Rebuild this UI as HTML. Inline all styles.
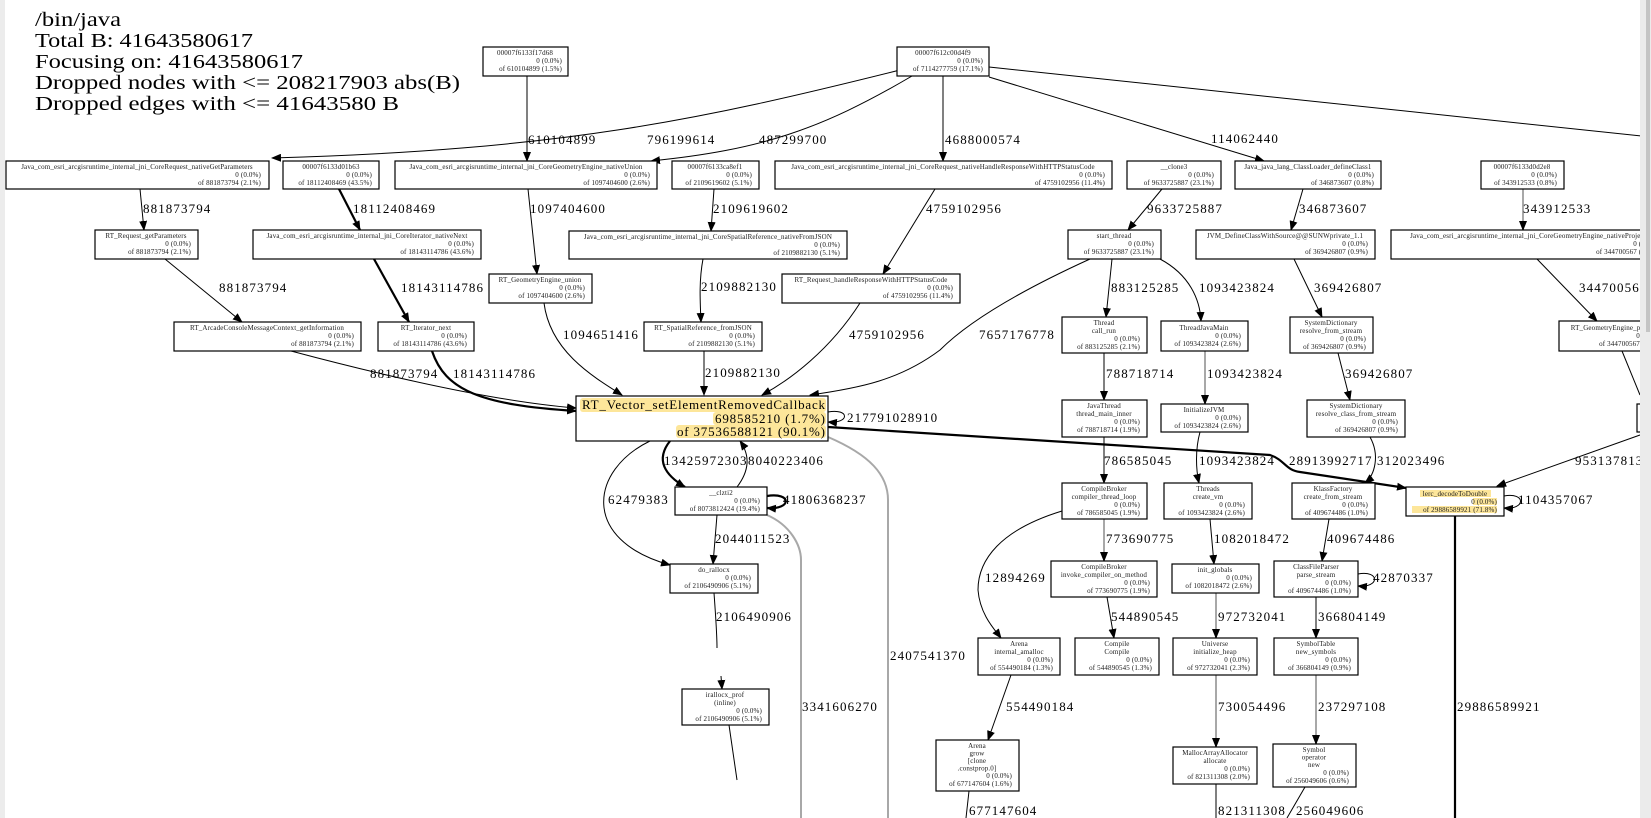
<!DOCTYPE html>
<html><head><meta charset="utf-8"><style>
html,body{margin:0;padding:0;background:#fff;}
svg{display:block;}
.t{font-family:"Liberation Serif",serif;font-size:20px;fill:#000;}
.n{font-family:"Liberation Serif",serif;font-size:7px;fill:#1a1a1a;letter-spacing:0.15px;}
.e{font-family:"Liberation Serif",serif;font-size:13px;fill:#000;letter-spacing:1.1px;}
.b{font-family:"Liberation Serif",serif;font-size:13px;fill:#000;}
rect.nd{fill:#fff;stroke:#000;stroke-width:1.2;}
path{fill:none;stroke:#000;stroke-width:1;}
path.k{stroke-width:2.2;}
path.g{stroke:#a8a8a8;stroke-width:2;}
</style></head><body>
<svg width="1651" height="818" viewBox="0 0 1651 818" xmlns="http://www.w3.org/2000/svg">
<defs>
<marker id="a" markerUnits="userSpaceOnUse" markerWidth="10" markerHeight="8" refX="9" refY="4" orient="auto"><path d="M0,0 L10,4 L0,8 Z" style="fill:#000;stroke:none"/></marker>
<marker id="ag" markerUnits="userSpaceOnUse" markerWidth="10" markerHeight="8" refX="9" refY="4" orient="auto"><path d="M0,0 L10,4 L0,8 Z" style="fill:#000;stroke:none"/></marker>
</defs>
<rect x="0" y="0" width="5" height="818" fill="#ececec"/>

<!-- title -->
<text class="t" x="35" y="26" textLength="86" lengthAdjust="spacingAndGlyphs">/bin/java</text>
<text class="t" x="35" y="47" textLength="218" lengthAdjust="spacingAndGlyphs">Total B: 41643580617</text>
<text class="t" x="35" y="68" textLength="268" lengthAdjust="spacingAndGlyphs">Focusing on: 41643580617</text>
<text class="t" x="35" y="89" textLength="425" lengthAdjust="spacingAndGlyphs">Dropped nodes with &lt;= 208217903 abs(B)</text>
<text class="t" x="35" y="110" textLength="364" lengthAdjust="spacingAndGlyphs">Dropped edges with &lt;= 41643580 B</text>

<!-- edges -->
<g>
<path d="M527,76 L527,161" marker-end="url(#a)"/>
<path d="M900,70 C700,120 560,150 272,158" marker-end="url(#a)"/>
<path d="M912,76 C820,130 760,150 651,161" marker-end="url(#a)"/>
<path d="M943,76 L943,161" marker-end="url(#a)"/>
<path d="M989,77 L1264,161" marker-end="url(#a)"/>
<path d="M989,67 L1660,138"/>
<path d="M140,189 L144,230" marker-end="url(#a)"/>
<path class="k" d="M339,189 L360,230" marker-end="url(#a)"/>
<path d="M528,189 L537,274" marker-end="url(#a)"/>
<path d="M714,189 L711,231" marker-end="url(#a)"/>
<path d="M935,189 L883,274" marker-end="url(#a)"/>
<path d="M1162,189 L1128,230" marker-end="url(#a)"/>
<path d="M1303,189 L1291,230" marker-end="url(#a)"/>
<path class="g" d="M1523,189 L1523,230" marker-end="url(#ag)"/>
<path d="M165,259 L242,322" marker-end="url(#a)"/>
<path class="k" d="M374,259 L409,322" marker-end="url(#a)"/>
<path d="M703,259 C699,280 700,300 701,322" marker-end="url(#a)"/>
<path d="M1112,259 L1106,317" marker-end="url(#a)"/>
<path d="M1160,259 C1190,275 1200,300 1201,321" marker-end="url(#a)"/>
<path d="M1294,259 L1322,317" marker-end="url(#a)"/>
<path d="M1537,259 L1597,321" marker-end="url(#a)"/>
<path d="M544,303 C550,350 590,375 622,395" marker-end="url(#a)"/>
<path d="M860,303 C830,350 790,380 762,395" marker-end="url(#a)"/>
<path d="M1090,259 C1000,300 960,330 940,350 C900,380 860,388 810,395" marker-end="url(#a)"/>
<path d="M704,351 L704,395" marker-end="url(#a)"/>
<path d="M291,351 C400,380 500,402 576,408" marker-end="url(#a)"/>
<path class="k" d="M432,351 C445,390 480,405 576,411" marker-end="url(#a)"/>
<path d="M1104,353 L1104,400" marker-end="url(#a)"/>
<path class="g" d="M1205,351 L1205,404" marker-end="url(#ag)"/>
<path d="M1338,353 L1350,400" marker-end="url(#a)"/>
<path d="M1622,351 L1640,395"/>
<path class="k" d="M828,427 L1270,455 C1285,460 1285,470 1300,472 L1406,488" marker-end="url(#a)"/>
<path d="M828,412 C850,408 850,424 828,422" marker-end="url(#a)"/>
<path class="k" d="M670,441 C655,460 665,475 685,487" marker-end="url(#a)"/>
<path d="M737,487 C750,470 750,455 740,441" marker-end="url(#a)"/>
<path d="M650,441 C590,470 580,540 670,565" marker-end="url(#a)"/>
<path class="k" d="M767,496 C792,492 792,510 767,508" marker-end="url(#a)"/>
<path d="M717,515 L713,564" marker-end="url(#a)"/>
<path d="M714,593 C716,620 717,640 717,648"/>
<path d="M721,676 L722,689" marker-end="url(#a)"/>
<path d="M729,725 L737,780"/>
<path class="g" d="M767,515 C790,525 801,545 801,560 L801,818"/>
<path class="g" d="M828,437 C870,455 888,475 888,500 L888,818"/>
<path d="M1104,437 L1104,483" marker-end="url(#a)"/>
<path d="M1200,432 C1195,450 1196,470 1199,483" marker-end="url(#a)"/>
<path d="M1370,437 C1380,455 1375,475 1365,483" marker-end="url(#a)"/>
<path d="M1640,435 L1497,486" marker-end="url(#a)"/>
<path d="M1504,496 C1526,492 1526,510 1504,508" marker-end="url(#a)"/>
<path class="k" d="M1455,516 L1455,818"/>
<path class="g" d="M1104,519 L1104,561" marker-end="url(#ag)"/>
<path d="M1210,519 L1214,564" marker-end="url(#a)"/>
<path d="M1329,519 L1322,561" marker-end="url(#a)"/>
<path d="M1062,511 C1000,530 978,560 978,590 C980,615 995,630 1001,638" marker-end="url(#a)"/>
<path d="M1107,597 L1114,638" marker-end="url(#a)"/>
<path class="g" d="M1216,593 L1216,638" marker-end="url(#ag)"/>
<path d="M1358,574 C1380,570 1380,588 1358,586" marker-end="url(#a)"/>
<path d="M1316,597 L1316,638" marker-end="url(#a)"/>
<path d="M1011,675 L988,740" marker-end="url(#a)"/>
<path class="g" d="M1216,675 L1216,747" marker-end="url(#ag)"/>
<path class="g" d="M1316,675 L1316,744" marker-end="url(#ag)"/>
<path d="M969,791 L966,818"/>
<path d="M1216,784 L1216,818"/>
<path d="M1305,787 L1287,818"/>
</g>

<!-- edge labels -->
<g class="e">
<text x="528" y="144">610104899</text>
<text x="647" y="144">796199614</text>
<text x="759" y="144">487299700</text>
<text x="945" y="144">4688000574</text>
<text x="1211" y="143">114062440</text>
<text x="143" y="213">881873794</text>
<text x="353" y="213">18112408469</text>
<text x="530" y="213">1097404600</text>
<text x="713" y="213">2109619602</text>
<text x="926" y="213">4759102956</text>
<text x="1147" y="213">9633725887</text>
<text x="1299" y="213">346873607</text>
<text x="1523" y="213">343912533</text>
<text x="219" y="292">881873794</text>
<text x="401" y="292">18143114786</text>
<text x="701" y="291">2109882130</text>
<text x="1111" y="292">883125285</text>
<text x="1199" y="292">1093423824</text>
<text x="1314" y="292">369426807</text>
<text x="1579" y="292">344700567</text>
<text x="563" y="339">1094651416</text>
<text x="849" y="339">4759102956</text>
<text x="979" y="339">7657176778</text>
<text x="705" y="377">2109882130</text>
<text x="370" y="378">881873794</text>
<text x="453" y="378">18143114786</text>
<text x="1106" y="378">788718714</text>
<text x="1207" y="378">1093423824</text>
<text x="1345" y="378">369426807</text>
<text x="847" y="422">217791028910</text>
<text x="664" y="465">13425972303</text>
<text x="748" y="465">8040223406</text>
<text x="1104" y="465">786585045</text>
<text x="1199" y="465">1093423824</text>
<text x="1289" y="465">28913992717</text>
<text x="1377" y="465">312023496</text>
<text x="1575" y="465">9531378133</text>
<text x="608" y="504">62479383</text>
<text x="783" y="504">41806368237</text>
<text x="1518" y="504">1104357067</text>
<text x="715" y="543">2044011523</text>
<text x="1106" y="543">773690775</text>
<text x="1214" y="543">1082018472</text>
<text x="1327" y="543">409674486</text>
<text x="985" y="582">12894269</text>
<text x="1373" y="582">42870337</text>
<text x="716" y="621">2106490906</text>
<text x="1111" y="621">544890545</text>
<text x="1218" y="621">972732041</text>
<text x="1318" y="621">366804149</text>
<text x="890" y="660">2407541370</text>
<text x="802" y="711">3341606270</text>
<text x="1006" y="711">554490184</text>
<text x="1218" y="711">730054496</text>
<text x="1318" y="711">237297108</text>
<text x="1457" y="711">29886589921</text>
<text x="969" y="815">677147604</text>
<text x="1218" y="815">821311308</text>
<text x="1296" y="815">256049606</text>
</g>

<!-- nodes -->
<g class="n">
<rect class="nd" x="483" y="47" width="85" height="29"/>
<text x="525" y="55" text-anchor="middle">00007f6133f17d68</text><text x="562" y="63" text-anchor="end">0 (0.0%)</text><text x="562" y="71" text-anchor="end">of 610104899 (1.5%)</text>

<rect class="nd" x="897" y="47" width="92" height="29"/>
<text x="943" y="55" text-anchor="middle">00007f612c00d4f9</text><text x="983" y="63" text-anchor="end">0 (0.0%)</text><text x="983" y="71" text-anchor="end">of 7114277759 (17.1%)</text>

<rect class="nd" x="6" y="161" width="263" height="28"/>
<text x="137" y="169" text-anchor="middle">Java_com_esri_arcgisruntime_internal_jni_CoreRequest_nativeGetParameters</text><text x="261" y="177" text-anchor="end">0 (0.0%)</text><text x="261" y="185" text-anchor="end">of 881873794 (2.1%)</text>

<rect class="nd" x="283" y="161" width="96" height="28"/>
<text x="331" y="169" text-anchor="middle">00007f6133d01b63</text><text x="372" y="177" text-anchor="end">0 (0.0%)</text><text x="372" y="185" text-anchor="end">of 18112408469 (43.5%)</text>

<rect class="nd" x="395" y="161" width="262" height="28"/>
<text x="526" y="169" text-anchor="middle">Java_com_esri_arcgisruntime_internal_jni_CoreGeometryEngine_nativeUnion</text><text x="650" y="177" text-anchor="end">0 (0.0%)</text><text x="650" y="185" text-anchor="end">of 1097404600 (2.6%)</text>

<rect class="nd" x="672" y="161" width="87" height="28"/>
<text x="715" y="169" text-anchor="middle">00007f6133ca8ef1</text><text x="752" y="177" text-anchor="end">0 (0.0%)</text><text x="752" y="185" text-anchor="end">of 2109619602 (5.1%)</text>

<rect class="nd" x="775" y="161" width="337" height="28"/>
<text x="943" y="169" text-anchor="middle">Java_com_esri_arcgisruntime_internal_jni_CoreRequest_nativeHandleResponseWithHTTPStatusCode</text><text x="1105" y="177" text-anchor="end">0 (0.0%)</text><text x="1105" y="185" text-anchor="end">of 4759102956 (11.4%)</text>

<rect class="nd" x="1127" y="161" width="94" height="28"/>
<text x="1174" y="169" text-anchor="middle">__clone3</text><text x="1214" y="177" text-anchor="end">0 (0.0%)</text><text x="1214" y="185" text-anchor="end">of 9633725887 (23.1%)</text>

<rect class="nd" x="1235" y="161" width="146" height="28"/>
<text x="1308" y="169" text-anchor="middle">Java_java_lang_ClassLoader_defineClass1</text><text x="1374" y="177" text-anchor="end">0 (0.0%)</text><text x="1374" y="185" text-anchor="end">of 346873607 (0.8%)</text>

<rect class="nd" x="1481" y="161" width="83" height="28"/>
<text x="1522" y="169" text-anchor="middle">00007f6133d0d2e8</text><text x="1557" y="177" text-anchor="end">0 (0.0%)</text><text x="1557" y="185" text-anchor="end">of 343912533 (0.8%)</text>

<rect class="nd" x="95" y="230" width="103" height="29"/>
<text x="146" y="238" text-anchor="middle">RT_Request_getParameters</text><text x="191" y="246" text-anchor="end">0 (0.0%)</text><text x="191" y="254" text-anchor="end">of 881873794 (2.1%)</text>

<rect class="nd" x="253" y="230" width="228" height="29"/>
<text x="367" y="238" text-anchor="middle">Java_com_esri_arcgisruntime_internal_jni_CoreIterator_nativeNext</text><text x="474" y="246" text-anchor="end">0 (0.0%)</text><text x="474" y="254" text-anchor="end">of 18143114786 (43.6%)</text>

<rect class="nd" x="569" y="231" width="278" height="28"/>
<text x="708" y="239" text-anchor="middle">Java_com_esri_arcgisruntime_internal_jni_CoreSpatialReference_nativeFromJSON</text><text x="840" y="247" text-anchor="end">0 (0.0%)</text><text x="840" y="255" text-anchor="end">of 2109882130 (5.1%)</text>

<rect class="nd" x="1068" y="230" width="93" height="29"/>
<text x="1114" y="238" text-anchor="middle">start_thread</text><text x="1154" y="246" text-anchor="end">0 (0.0%)</text><text x="1154" y="254" text-anchor="end">of 9633725887 (23.1%)</text>

<rect class="nd" x="1196" y="230" width="179" height="29"/>
<text x="1285" y="238" text-anchor="middle">JVM_DefineClassWithSource@@SUNWprivate_1.1</text><text x="1368" y="246" text-anchor="end">0 (0.0%)</text><text x="1368" y="254" text-anchor="end">of 369426807 (0.9%)</text>

<rect class="nd" x="1391" y="230" width="275" height="29"/>
<text x="1528" y="238" text-anchor="middle">Java_com_esri_arcgisruntime_internal_jni_CoreGeometryEngine_nativeProject</text><text x="1659" y="246" text-anchor="end">0 (0.0%)</text><text x="1659" y="254" text-anchor="end">of 344700567 (0.8%)</text>

<rect class="nd" x="489" y="274" width="103" height="29"/>
<text x="540" y="282" text-anchor="middle">RT_GeometryEngine_union</text><text x="585" y="290" text-anchor="end">0 (0.0%)</text><text x="585" y="298" text-anchor="end">of 1097404600 (2.6%)</text>

<rect class="nd" x="782" y="274" width="178" height="29"/>
<text x="871" y="282" text-anchor="middle">RT_Request_handleResponseWithHTTPStatusCode</text><text x="953" y="290" text-anchor="end">0 (0.0%)</text><text x="953" y="298" text-anchor="end">of 4759102956 (11.4%)</text>

<rect class="nd" x="174" y="322" width="187" height="29"/>
<text x="267" y="330" text-anchor="middle">RT_ArcadeConsoleMessageContext_getInformation</text><text x="354" y="338" text-anchor="end">0 (0.0%)</text><text x="354" y="346" text-anchor="end">of 881873794 (2.1%)</text>

<rect class="nd" x="378" y="322" width="96" height="29"/>
<text x="426" y="330" text-anchor="middle">RT_Iterator_next</text><text x="467" y="338" text-anchor="end">0 (0.0%)</text><text x="467" y="346" text-anchor="end">of 18143114786 (43.6%)</text>

<rect class="nd" x="644" y="322" width="118" height="29"/>
<text x="703" y="330" text-anchor="middle">RT_SpatialReference_fromJSON</text><text x="755" y="338" text-anchor="end">0 (0.0%)</text><text x="755" y="346" text-anchor="end">of 2109882130 (5.1%)</text>

<rect class="nd" x="1062" y="317" width="85" height="36"/>
<text x="1104" y="325" text-anchor="middle">Thread</text><text x="1104" y="333" text-anchor="middle">call_run</text><text x="1140" y="341" text-anchor="end">0 (0.0%)</text><text x="1140" y="349" text-anchor="end">of 883125285 (2.1%)</text>

<rect class="nd" x="1161" y="321" width="87" height="30"/>
<text x="1204" y="330" text-anchor="middle">ThreadJavaMain</text><text x="1241" y="338" text-anchor="end">0 (0.0%)</text><text x="1241" y="346" text-anchor="end">of 1093423824 (2.6%)</text>

<rect class="nd" x="1290" y="317" width="83" height="36"/>
<text x="1331" y="325" text-anchor="middle">SystemDictionary</text><text x="1331" y="333" text-anchor="middle">resolve_from_stream</text><text x="1366" y="341" text-anchor="end">0 (0.0%)</text><text x="1366" y="349" text-anchor="end">of 369426807 (0.9%)</text>

<rect class="nd" x="1559" y="321" width="110" height="30"/>
<text x="1614" y="330" text-anchor="middle">RT_GeometryEngine_project</text><text x="1662" y="338" text-anchor="end">0 (0.0%)</text><text x="1662" y="346" text-anchor="end">of 344700567 (0.8%)</text>

<rect class="nd" x="1062" y="400" width="85" height="37"/>
<text x="1104" y="408" text-anchor="middle">JavaThread</text><text x="1104" y="416" text-anchor="middle">thread_main_inner</text><text x="1140" y="424" text-anchor="end">0 (0.0%)</text><text x="1140" y="432" text-anchor="end">of 788718714 (1.9%)</text>

<rect class="nd" x="1161" y="404" width="87" height="28"/>
<text x="1204" y="412" text-anchor="middle">InitializeJVM</text><text x="1241" y="420" text-anchor="end">0 (0.0%)</text><text x="1241" y="428" text-anchor="end">of 1093423824 (2.6%)</text>

<rect class="nd" x="1307" y="400" width="98" height="37"/>
<text x="1356" y="408" text-anchor="middle">SystemDictionary</text><text x="1356" y="416" text-anchor="middle">resolve_class_from_stream</text><text x="1398" y="424" text-anchor="end">0 (0.0%)</text><text x="1398" y="432" text-anchor="end">of 369426807 (0.9%)</text>

<rect class="nd" x="1637" y="404" width="60" height="28"/>

<rect class="nd" x="675" y="487" width="92" height="28"/>
<text x="721" y="495" text-anchor="middle">__clzti2</text><text x="760" y="503" text-anchor="end">0 (0.0%)</text><text x="760" y="511" text-anchor="end">of 8073812424 (19.4%)</text>

<rect class="nd" x="1062" y="483" width="85" height="36"/>
<text x="1104" y="491" text-anchor="middle">CompileBroker</text><text x="1104" y="499" text-anchor="middle">compiler_thread_loop</text><text x="1140" y="507" text-anchor="end">0 (0.0%)</text><text x="1140" y="515" text-anchor="end">of 786585045 (1.9%)</text>

<rect class="nd" x="1164" y="483" width="88" height="36"/>
<text x="1208" y="491" text-anchor="middle">Threads</text><text x="1208" y="499" text-anchor="middle">create_vm</text><text x="1245" y="507" text-anchor="end">0 (0.0%)</text><text x="1245" y="515" text-anchor="end">of 1093423824 (2.6%)</text>

<rect class="nd" x="1292" y="483" width="83" height="36"/>
<text x="1333" y="491" text-anchor="middle">KlassFactory</text><text x="1333" y="499" text-anchor="middle">create_from_stream</text><text x="1368" y="507" text-anchor="end">0 (0.0%)</text><text x="1368" y="515" text-anchor="end">of 409674486 (1.0%)</text>

<rect class="nd" x="1406" y="487" width="98" height="29"/>
<rect x="1420" y="490" width="71" height="7" fill="#fde69a"/><rect x="1473" y="498" width="24" height="7" fill="#fde69a"/><rect x="1412" y="506" width="85" height="7" fill="#fde69a"/>
<text x="1455" y="496" text-anchor="middle">lerc_decodeToDouble</text><text x="1497" y="504" text-anchor="end">0 (0.0%)</text><text x="1497" y="512" text-anchor="end">of 29886589921 (71.8%)</text>

<rect class="nd" x="670" y="564" width="88" height="29"/>
<text x="714" y="572" text-anchor="middle">do_rallocx</text><text x="751" y="580" text-anchor="end">0 (0.0%)</text><text x="751" y="588" text-anchor="end">of 2106490906 (5.1%)</text>

<rect class="nd" x="1051" y="561" width="106" height="36"/>
<text x="1104" y="569" text-anchor="middle">CompileBroker</text><text x="1104" y="577" text-anchor="middle">invoke_compiler_on_method</text><text x="1150" y="585" text-anchor="end">0 (0.0%)</text><text x="1150" y="593" text-anchor="end">of 773690775 (1.9%)</text>

<rect class="nd" x="1172" y="564" width="87" height="29"/>
<text x="1215" y="572" text-anchor="middle">init_globals</text><text x="1252" y="580" text-anchor="end">0 (0.0%)</text><text x="1252" y="588" text-anchor="end">of 1082018472 (2.6%)</text>

<rect class="nd" x="1274" y="561" width="84" height="36"/>
<text x="1316" y="569" text-anchor="middle">ClassFileParser</text><text x="1316" y="577" text-anchor="middle">parse_stream</text><text x="1351" y="585" text-anchor="end">0 (0.0%)</text><text x="1351" y="593" text-anchor="end">of 409674486 (1.0%)</text>

<rect class="nd" x="978" y="638" width="82" height="37"/>
<text x="1019" y="646" text-anchor="middle">Arena</text><text x="1019" y="654" text-anchor="middle">internal_amalloc</text><text x="1053" y="662" text-anchor="end">0 (0.0%)</text><text x="1053" y="670" text-anchor="end">of 554490184 (1.3%)</text>

<rect class="nd" x="1075" y="638" width="84" height="37"/>
<text x="1117" y="646" text-anchor="middle">Compile</text><text x="1117" y="654" text-anchor="middle">Compile</text><text x="1152" y="662" text-anchor="end">0 (0.0%)</text><text x="1152" y="670" text-anchor="end">of 544890545 (1.3%)</text>

<rect class="nd" x="1173" y="638" width="84" height="37"/>
<text x="1215" y="646" text-anchor="middle">Universe</text><text x="1215" y="654" text-anchor="middle">initialize_heap</text><text x="1250" y="662" text-anchor="end">0 (0.0%)</text><text x="1250" y="670" text-anchor="end">of 972732041 (2.3%)</text>

<rect class="nd" x="1274" y="638" width="84" height="37"/>
<text x="1316" y="646" text-anchor="middle">SymbolTable</text><text x="1316" y="654" text-anchor="middle">new_symbols</text><text x="1351" y="662" text-anchor="end">0 (0.0%)</text><text x="1351" y="670" text-anchor="end">of 366804149 (0.9%)</text>

<rect class="nd" x="682" y="689" width="87" height="36"/>
<text x="725" y="697" text-anchor="middle">irallocx_prof</text><text x="725" y="705" text-anchor="middle">(inline)</text><text x="762" y="713" text-anchor="end">0 (0.0%)</text><text x="762" y="721" text-anchor="end">of 2106490906 (5.1%)</text>

<rect class="nd" x="936" y="740" width="83" height="51"/>
<text x="977" y="748" text-anchor="middle">Arena</text><text x="977" y="755.5" text-anchor="middle">grow</text><text x="977" y="763" text-anchor="middle">[clone</text><text x="977" y="770.5" text-anchor="middle">.constprop.0]</text><text x="1012" y="778" text-anchor="end">0 (0.0%)</text><text x="1012" y="786" text-anchor="end">of 677147604 (1.6%)</text>

<rect class="nd" x="1173" y="747" width="84" height="37"/>
<text x="1215" y="755" text-anchor="middle">MallocArrayAllocator</text><text x="1215" y="763" text-anchor="middle">allocate</text><text x="1250" y="771" text-anchor="end">0 (0.0%)</text><text x="1250" y="779" text-anchor="end">of 821311308 (2.0%)</text>

<rect class="nd" x="1273" y="744" width="83" height="43"/>
<text x="1314" y="752" text-anchor="middle">Symbol</text><text x="1314" y="759.5" text-anchor="middle">operator</text><text x="1314" y="767" text-anchor="middle">new</text><text x="1349" y="775" text-anchor="end">0 (0.0%)</text><text x="1349" y="783" text-anchor="end">of 256049606 (0.6%)</text>
</g>

<!-- main node -->
<rect class="nd" x="576" y="396" width="252" height="45"/>
<rect x="580" y="398" width="246" height="14" rx="3" fill="#fde69a"/>
<rect x="713" y="412" width="113" height="13" rx="3" fill="#fde69a"/>
<rect x="676" y="425" width="150" height="13" rx="3" fill="#fde69a"/>
<text class="b" x="582" y="409" textLength="243" lengthAdjust="spacing">RT_Vector_setElementRemovedCallback</text>
<text class="b" x="715" y="423" textLength="110" lengthAdjust="spacing">698585210 (1.7%)</text>
<text class="b" x="677" y="436" textLength="148" lengthAdjust="spacing">of 37536588121 (90.1%)</text>

<!-- scrollbar -->
<rect x="1640" y="0" width="11" height="818" fill="#ebebeb"/>
<rect x="1646" y="0" width="4" height="332" fill="#c4c4c4"/>
</svg>
</body></html>
